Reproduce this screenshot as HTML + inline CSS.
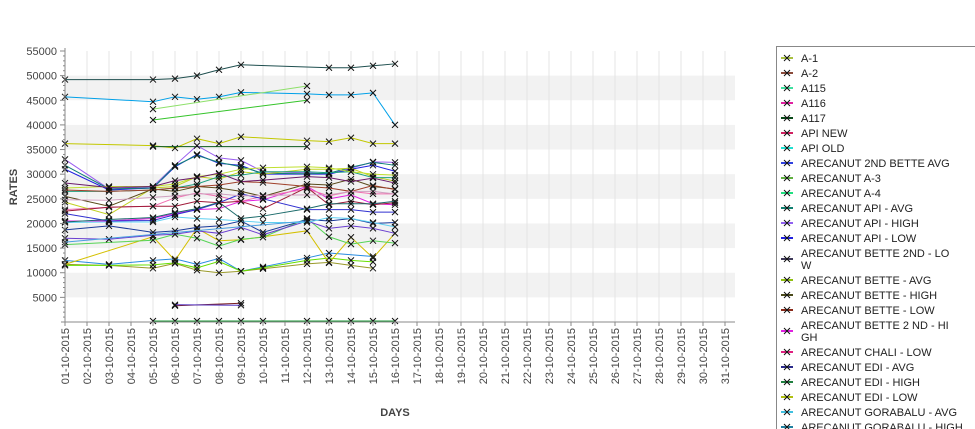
<!DOCTYPE html>
<html><head><meta charset="utf-8"><style>
body{margin:0;background:#fff;width:975px;height:429px;overflow:hidden;font-family:"Liberation Sans","DejaVu Sans",sans-serif}
svg{position:absolute;left:0;top:0}
</style></head><body>
<svg id="chart" width="975" height="429">
<g id="bands"></g>
<g id="grid"></g>
<g id="series"></g>
<g id="axes"></g>
<text x="17" y="187" transform="rotate(-90 17 187)" text-anchor="middle" font-size="11" font-weight="bold" fill="#444">RATES</text>
<text x="395" y="416" text-anchor="middle" font-size="11" font-weight="bold" fill="#444">DAYS</text>
<rect x="776.5" y="46.5" width="205" height="400" fill="#fff" stroke="#888"></rect>
<g id="legend"></g>
</svg>
<script>
const categories=[];for(let d=1;d<=31;d++)categories.push((d<10?'0':'')+d+'-10-2015');
const yTicks=[5000,10000,15000,20000,25000,30000,35000,40000,45000,50000,55000];
const N=null;
// values at day indices 0..15 (null = no data)
const s01=[49200,N,N,N,49200,49400,50000,51200,52200,N,N,N,51600,51600,52000,52400];
const s02=[45700,N,N,N,44700,45700,45200,45700,46600,N,N,46300,46100,46100,46500,40000];
const s03=[N,N,N,N,43200,N,N,N,N,N,N,47900,N,N,N,N];
const s04=[N,N,N,N,41000,N,N,N,N,N,N,45000,N,N,N,N];
const s05=[36200,N,N,N,35800,35300,37200,36200,37600,N,N,36800,36600,37400,36200,36200];
const s06=[N,N,N,N,35600,N,N,N,N,N,N,35600,N,N,N,N];
const s07=[33000,N,27000,N,27500,31800,35800,33300,32800,30500,N,30300,30000,31200,32500,32400];
const s08=[31000,N,26800,N,27200,31500,34000,32200,31800,30000,N,30000,30000,31000,31800,30600];
const s09=[31800,N,27000,N,27200,31700,33800,32400,31500,30200,N,30100,30200,31400,32400,31800];
const s10=[N,N,N,N,200,200,200,200,200,200,N,200,200,200,200,200];
const s11=[N,N,N,N,N,3300,N,N,3800,N,N,N,N,N,N,N];
const s12=[N,N,N,N,N,3500,N,N,3400,N,N,N,N,N,N,N];
const s13=[12500,N,11700,N,12500,12800,11700,12900,10300,11200,N,13000,14000,N,13300,N];
const s14=[11700,N,11500,N,10900,11900,10500,10000,10300,10800,N,11800,12100,11500,10900,N];
const s15=[11500,N,11500,N,11600,12000,11000,12300,10300,11000,N,12500,13000,12500,12200,N];
const s16=[11700,N,N,N,17300,12500,19000,16500,16700,N,N,18500,12000,17200,13000,18000];
const s17=[15700,N,N,N,16600,17800,17000,15400,16800,17200,N,21000,17300,15800,16500,16000];
const s18=[17000,N,16800,N,17600,17800,18500,18000,19200,17700,N,20500,19000,19500,19000,18000];
const s19=[18700,N,19500,N,18200,18500,19200,19500,20500,18200,N,20800,20500,21000,20000,20200];
const s20=[20200,N,20300,N,20300,21300,21000,20800,20500,20200,N,20200,21200,21000,20200,19300];
const s21=[20500,N,20500,N,21000,22000,22800,23000,24500,24800,N,27500,25000,25800,24000,23800];
const s22=[22800,N,23300,N,23500,25200,26200,25500,24500,25500,N,27000,25600,26500,26000,26000];
const s23=[22000,N,20500,N,20600,21800,22800,24200,26000,25000,N,22800,22800,22800,22300,22300];
const s24=[24300,N,21800,N,27200,27500,29500,29000,30500,30000,N,31000,31000,31200,29500,28600];
const s25=[25500,N,23500,N,27000,26500,27500,27200,26500,25500,N,28000,27800,29000,27500,27000];
const s26=[26500,N,26500,N,26800,27200,28000,29500,29800,30500,N,30500,30300,30500,29300,29300];
const s27=[27200,N,27500,N,27500,28000,29500,30000,31000,31300,N,31500,31300,30500,30000,29800];
const s28=[26800,N,26500,N,26800,27200,27500,27800,28500,28300,N,27500,27200,26500,27700,26900];
const s29=[22500,N,23300,N,23500,23500,24500,24200,24500,23000,N,27300,23800,24500,23800,24200];
const s30=[24800,N,24700,N,25300,25600,26000,26000,25600,25700,N,25800,25800,26500,26500,26000];
const s31=[20300,N,20800,N,21200,22200,23000,24300,21000,21500,N,23000,24000,24000,24000,24500];
const s32=[28200,N,27300,N,27500,28700,29300,30200,28500,28800,N,29500,29300,28500,29200,28200];
const s33=[16200,N,N,N,N,N,N,N,N,N,N,20500,N,N,N,N];
const series=[s01,s02,s03,s04,s05,s06,s07,s08,s09,s10,s11,s12,s13,s14,s15,s16,s17,s18,s19,s20,s21,s22,s23,s24,s25,s26,s27,s28,s29,s30,s31,s32,s33];
const colors=['#1f4f4f','#00a0e8','#8ee06a','#35c42a','#c2c800','#0b5a1b','#9a5ef0','#2020e0','#118077','#1e9a3a','#7a1f1f','#5030c0','#2a8ce0','#9a9a2a','#66e000','#d4c000','#55d455','#6a3fd0','#1a3a9a','#5fd0f0','#e020e0','#f070b0','#3030d0','#c0d020','#5a4a1a','#20a080','#c0e030','#a0402a','#a01a3a','#d0a0c0','#1a6a6a','#6a1a6a','#4aa0e0'];
const legendNames=['A-1','A-2','A115','A116','A117','API NEW','API OLD','ARECANUT 2ND BETTE AVG','ARECANUT A-3','ARECANUT A-4','ARECANUT API - AVG','ARECANUT API - HIGH','ARECANUT API - LOW','ARECANUT BETTE  2ND  - LO|W','ARECANUT BETTE - AVG','ARECANUT BETTE - HIGH','ARECANUT BETTE - LOW','ARECANUT BETTE 2 ND  - HI|GH','ARECANUT CHALI - LOW','ARECANUT EDI - AVG','ARECANUT EDI - HIGH','ARECANUT EDI - LOW','ARECANUT GORABALU - AVG','ARECANUT GORABALU - HIGH'];
const legendColors=['#a8c040','#8a4a3a','#40e0a0','#e020a0','#0a4a1a','#d02060','#20e0d0','#3040e0','#60b040','#20e080','#108070','#9060f0','#2020e0','#403a5a','#90c010','#4a4a1a','#8a2a1a','#e020e0','#e02080','#2a2a8a','#208040','#b0c010','#40c0e0','#2080a0'];

const NS='http://www.w3.org/2000/svg';
const X0=65,DX=22,Y0=322,YPX=271/55000;
const xs=i=>X0+i*DX, ys=v=>Y0-v*YPX;
function mk(t,a,p){const e=document.createElementNS(NS,t);for(const k in a)e.setAttribute(k,a[k]);p.appendChild(e);return e;}
const bands=document.getElementById('bands'),grid=document.getElementById('grid'),ser=document.getElementById('series'),axes=document.getElementById('axes'),leg=document.getElementById('legend');
mk('rect',{x:X0,y:ys(55000),width:670,height:Y0-ys(55000),fill:'#fff'},bands);
for(let k=5000;k<55000;k+=10000){const r=mk('rect',{x:X0,y:ys(k+5000),width:670,height:ys(k)-ys(k+5000),fill:'#f2f2f2'},bands);

}
categories.forEach((c,i)=>{const l=mk('line',{x1:xs(i),x2:xs(i),y1:ys(55000),y2:Y0,stroke:'#e4e4e4'},grid);


const tk=mk('line',{x1:xs(i),x2:xs(i),y1:Y0,y2:Y0+4,stroke:'#888'},axes);


const tx=mk('text',{x:0,y:0,transform:`translate(${xs(i)+4},${Y0+6}) rotate(-90)`,'text-anchor':'end','font-size':'11',fill:'#444'},axes);
tx.textContent=c;

});
for(let v=1000;v<=55000;v+=1000){const major=v%5000===0;mk('line',{x1:X0-(major?5:2),x2:X0,y1:ys(v),y2:ys(v),stroke:'#888'},axes);}
yTicks.forEach(v=>{const t=mk('text',{x:X0-8,y:ys(v)+4,'text-anchor':'end','font-size':'11',fill:'#444'},axes);t.textContent=v;

});
mk('line',{x1:X0,x2:X0,y1:ys(55000)-3,y2:Y0,stroke:'#888'},axes);
mk('line',{x1:X0-4,x2:735,y1:Y0,y2:Y0,stroke:'#888'},axes);
series.forEach((s,si)=>{const g=mk('g',{},ser);


const pts=[];s.forEach((v,i)=>{if(v!==null)pts.push([xs(i),ys(v)]);});
if(pts.length>1)mk('polyline',{points:pts.map(p=>p.join(',')).join(' '),fill:'none',stroke:colors[si%colors.length],'stroke-width':1},g);
pts.forEach(p=>{const m=mk('path',{d:`M${p[0]-3},${p[1]-3}L${p[0]+3},${p[1]+3}M${p[0]-3},${p[1]+3}L${p[0]+3},${p[1]-3}`,stroke:'#111','stroke-width':1},g);

});});
let y=58;
legendNames.forEach((n,i)=>{const lines=n.split('|');const g=mk('g',{},leg);


const cy=y+(lines.length-1)*6;
mk('line',{x1:781,x2:793,y1:cy,y2:cy,stroke:legendColors[i],'stroke-width':2},g);
mk('path',{d:`M784,${cy-3}L790,${cy+3}M784,${cy+3}L790,${cy-3}`,stroke:'#111'},g);
lines.forEach((ln,j)=>{const t=mk('text',{x:801,y:y+4+j*12,'font-size':'11',fill:'#222'},g);t.textContent=ln;});
y+=lines.length>1?27:15;});
</script>
</body></html>
